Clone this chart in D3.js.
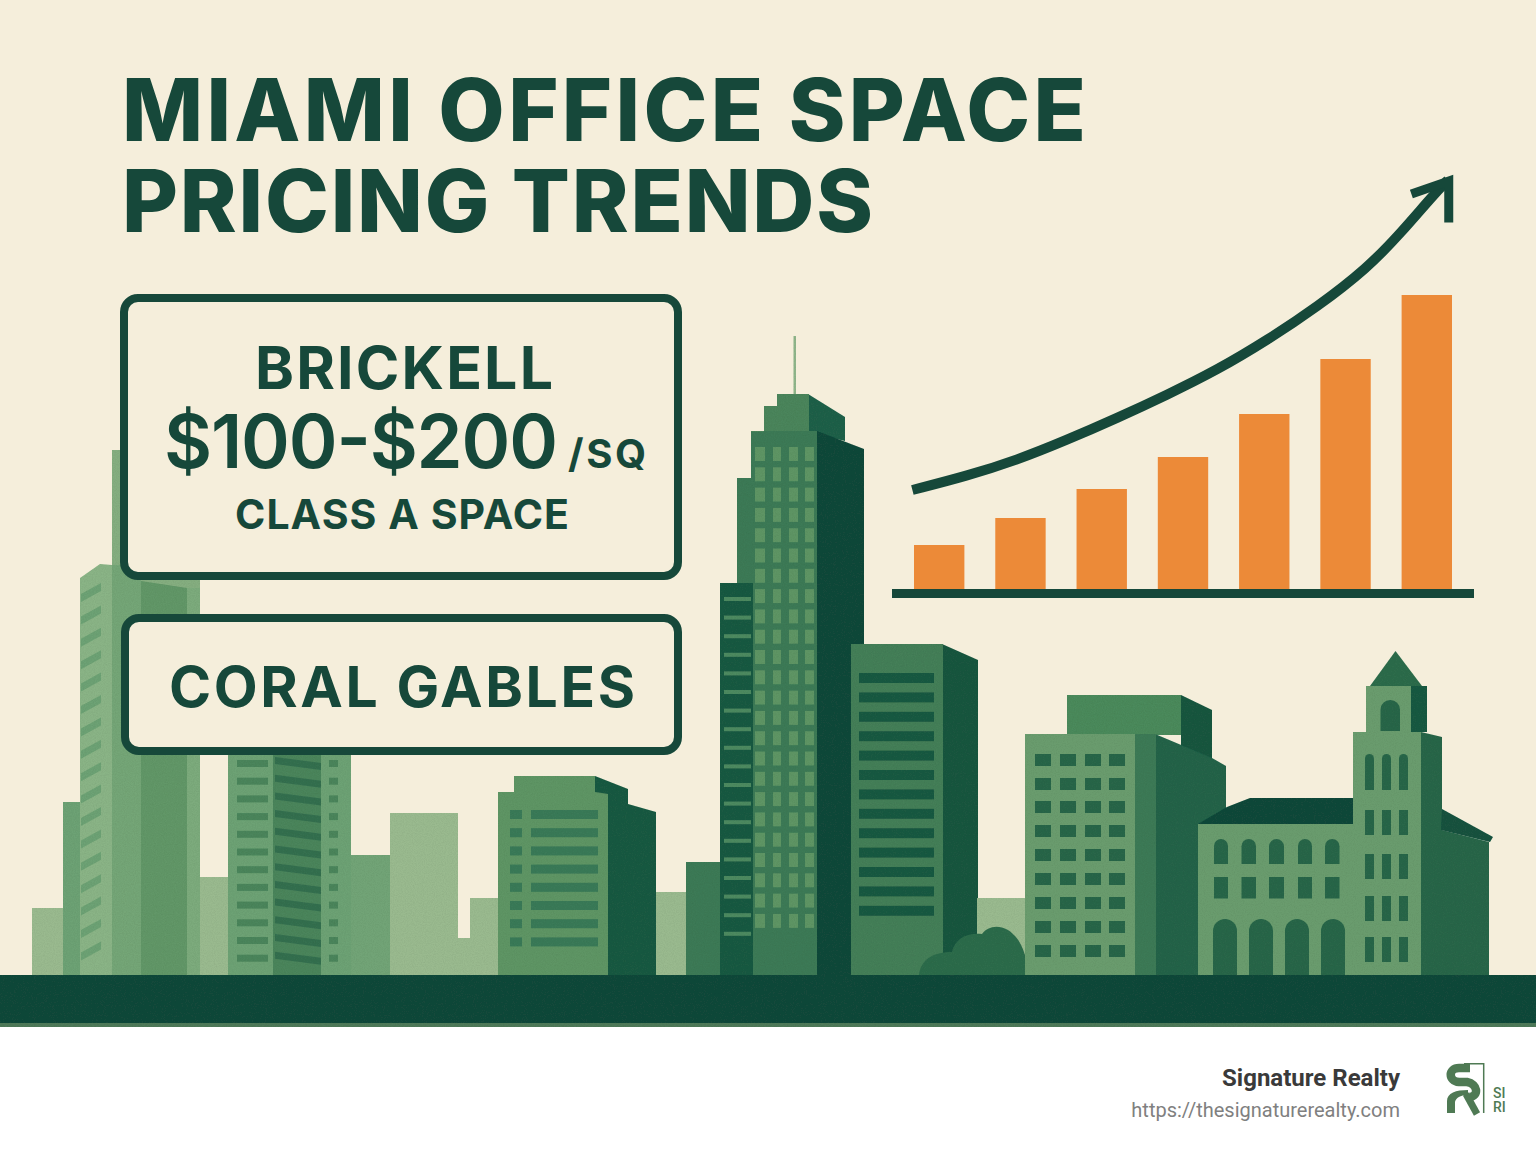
<!DOCTYPE html>
<html lang="en">
<head>
<meta charset="UTF-8">
<title>Miami Office Space Pricing Trends</title>
<script src="https://d3js.org/d3.v7.min.js"></script>
<style>
  html, body { margin: 0; padding: 0; background: #fff; }
  svg { display: block; }
  text { font-family: Inter, "Noto Sans", sans-serif; }
</style>
</head>
<body>
<svg id="chart" width="1536" height="1154"></svg>
<script>
// text
const titleLines = ["MIAMI OFFICE SPACE", "PRICING TRENDS"];
const brickellName = "BRICKELL";
const brickellPrice = "$100-$200";
const brickellUnit = "/SQ";
const brickellClass = "CLASS A SPACE";
const coralName = "CORAL GABLES";
const brandName = "Signature Realty";
const brandUrl = "https://thesignaturerealty.com";

// bars and trend line (no axis in the original, so units are relative)
const periods = [0, 1, 2, 3, 4, 5, 6];
const barValues = [44, 71, 100, 132, 175, 230, 294];
const trendPos = [-0.33, 0.34, 0.96, 1.57, 2.19, 2.80, 3.42, 4.04, 4.65, 5.27, 5.68, 6.08, 6.26];
const trendVal = [99, 113, 129, 149, 171, 194, 219, 249, 282, 321, 356, 394, 409];
const arrowPos = [5.81, 6.27, 6.27];
const arrowVal = [395, 408, 366.5];

// colours
const BG = "#f5eedb", INK = "#16483a", ORANGE = "#ec8a38";
const LIGHT = "#9aba8f", SOFT = "#85ae80", PALE = "#72a477", MID = "#6a9c6e", SAGE = "#5f9565";
const LEAF = "#4b855c", FOREST = "#3c7a56", PINE = "#2a664a", DEEP = "#1f5a43";

const svg = d3.select("#chart");

// paper grain on the buildings
const grain = svg.append("defs").append("filter").attr("id", "grain")
  .attr("x", 0).attr("y", 0).attr("width", 1).attr("height", 1);
grain.append("feTurbulence").attr("type", "fractalNoise").attr("baseFrequency", 0.9)
  .attr("numOctaves", 2).attr("seed", 4).attr("result", "noise");
grain.append("feColorMatrix").attr("in", "noise").attr("type", "matrix")
  .attr("values", "0 0 0 0 0  0 0 0 0 0  0 0 0 0 0  0.2 0 0 0 -0.07").attr("result", "specks");
grain.append("feComposite").attr("in", "specks").attr("in2", "SourceAlpha").attr("operator", "in").attr("result", "clipped");
const merge = grain.append("feMerge");
merge.append("feMergeNode").attr("in", "SourceGraphic");
merge.append("feMergeNode").attr("in", "clipped");

svg.append("rect").attr("width", 1536).attr("height", 1027).attr("fill", BG);

// ---- skyline helpers ----
const city = svg.append("g").attr("filter", "url(#grain)");

function rect(x, y, w, h, fill) {
  city.append("rect").attr("x", x).attr("y", y).attr("width", w).attr("height", h).attr("fill", fill);
}
function poly(pts, fill) {
  city.append("polygon").attr("points", pts.map(p => p.join(",")).join(" ")).attr("fill", fill);
}
function archWin(x, y, w, h, fill) {
  const r = w / 2;
  city.append("path").attr("fill", fill)
    .attr("d", `M${x},${y + h}V${y + r}A${r},${r} 0 0 1 ${x + w},${y + r}V${y + h}Z`);
}
function grid(xs, ys, widths, h, fill) {
  ys.forEach(y => xs.forEach((x, i) => rect(x, y, widths[i], h, fill)));
}

// far left cluster
rect(32, 908, 32, 67, LIGHT);
rect(112, 450, 88, 525, SOFT);
rect(63, 802, 18, 173, "#6da274");
poly([[80, 578], [100, 564], [112, 565], [112, 975], [80, 975]], "#8ab486");
rect(112, 565, 29, 410, "#74a677");
poly([[141, 581], [187, 588], [187, 975], [141, 975]], "#629768");
rect(187, 588, 13, 387, "#7dab7d");
d3.range(17).forEach(i => {
  const y = 583 + i * 22.4;
  poly([[81, y + 11], [101, y], [101, y + 8], [81, y + 19]], "#6da274");
});

// second block
rect(200, 877, 28, 98, LIGHT);
rect(228, 750, 123, 225, "#6da274");
rect(273, 750, 48, 225, LEAF);
d3.range(12).forEach(i => {
  const y = 760 + i * 17.7;
  rect(237, y, 31, 7, LEAF);
  poly([[275, y - 3], [321, y + 3], [321, y + 10], [275, y + 4]], "#367050");
  rect(329, y, 9, 7, LEAF);
});
rect(351, 855, 41, 120, PALE);
rect(390, 813, 68, 162, LIGHT);
rect(458, 938, 12, 37, LIGHT);
rect(470, 898, 28, 77, LIGHT);

// third block
poly([[595, 776], [628, 789], [628, 804], [656, 812], [656, 975], [595, 975]], DEEP);
poly([[498, 792], [514, 792], [514, 776], [595, 776], [595, 792], [608, 794], [608, 975], [498, 975]], SAGE);
d3.range(8).forEach(i => {
  const y = 810 + i * 18.2;
  rect(510, y, 12, 9, "#3a7a58");
  rect(531, y, 67, 9, "#3a7a58");
});

// main tower
rect(656, 892, 30, 83, LIGHT);
rect(686, 862, 36, 113, FOREST);
rect(793.5, 336, 2.5, 58, "#8fb58a");
poly([[808, 394], [845, 417], [845, 441], [808, 432]], "#22604a");
poly([[817, 431], [864, 449], [864, 975], [817, 975]], INK);
poly([[737, 478], [751, 478], [751, 431], [817, 431], [817, 975], [753, 975], [753, 583], [737, 583]], FOREST);
poly([[751, 432], [764, 432], [764, 406], [777, 406], [777, 394], [809, 394], [809, 431], [751, 431]], LEAF);
rect(720, 583, 33, 392, DEEP);
d3.range(19).forEach(i => rect(724, 597 + i * 18.6, 27, 4, "#4e8a61"));
grid([755, 773, 789, 805], d3.range(24).map(i => 447 + i * 20.3), [10, 8, 9, 9], 14, SAGE);

// building right of the tower
poly([[942, 644], [978, 660], [978, 975], [942, 975]], "#1c5640");
rect(851, 644, 92, 331, "#457f58");
d3.range(13).forEach(i => rect(859, 673 + i * 19.4, 75, 10, DEEP));
rect(977, 898, 50, 77, LIGHT);
city.append("path").attr("fill", "#2f6c4c")
  .attr("d", "M919,975C921,958 935,952 952,952C955,938 968,932 982,934C990,922 1015,922 1025,955L1025,975Z");

// block with the square windows
poly([[1181, 695], [1212, 710], [1212, 760], [1181, 760]], "#1d5741");
rect(1067, 695, 114, 40, "#4c8a5c");
poly([[1155, 734], [1212, 758], [1226, 766], [1226, 975], [1155, 975]], "#25634a");
rect(1025, 734, 110, 241, MID);
rect(1135, 734, 21, 241, FOREST);
grid([1035, 1060, 1085, 1109], [754, 778, 801, 825, 849, 873, 897, 921, 945], [16, 16, 16, 16], 12, PINE);

// old hall with the clock tower
poly([[1395.5, 651], [1370, 686], [1422, 686]], "#2f6c4c");
rect(1411, 686, 16, 46, DEEP);
poly([[1421, 732], [1442, 737], [1442, 830], [1489, 842], [1489, 975], [1421, 975]], PINE);
poly([[1442, 809], [1493, 837], [1490, 842], [1441, 830]], "#1a5340");
poly([[1198, 824], [1227, 807], [1250, 798], [1353, 798], [1353, 824]], INK);
rect(1198, 824, 156, 151, MID);
rect(1366, 686, 45, 46, MID);
rect(1353, 732, 68, 243, MID);
archWin(1380.5, 700, 19.5, 31, PINE);
[1365, 1382, 1399].forEach(x => {
  archWin(x, 754, 9, 36, PINE);
  [810, 854, 896, 937].forEach(y => rect(x, y, 9, 25, PINE));
});
[[1214, 14], [1241.5, 14.5], [1269, 15], [1298, 14], [1325, 14.5]].forEach(d => {
  archWin(d[0], 839, d[1], 25, PINE);
  rect(d[0], 877, d[1], 21.5, PINE);
});
[1213, 1249, 1285, 1321].forEach(x => archWin(x, 919, 24, 56, PINE));

// ground
rect(0, 975, 1536, 48, INK);
rect(0, 1023, 1536, 4, "#4f7a5a");

// ---- bars and trend line ----
const x = d3.scaleBand().domain(periods).range([914, 1452]).paddingInner(0.38);
const y = d3.scaleLinear().domain([0, 300]).range([589, 289]);
const trendX = d3.scaleLinear().domain([0, 6]).range([x(0) + x.bandwidth() / 2, x(6) + x.bandwidth() / 2]);

svg.append("g").selectAll("rect")
  .data(barValues)
  .join("rect")
  .attr("x", (d, i) => x(periods[i]))
  .attr("y", d => y(d))
  .attr("width", x.bandwidth())
  .attr("height", d => y(0) - y(d))
  .attr("fill", ORANGE);

svg.append("line")
  .attr("x1", 892).attr("x2", 1474)
  .attr("y1", y(0) + 4.5).attr("y2", y(0) + 4.5)
  .attr("stroke", INK).attr("stroke-width", 9);

const trendLine = d3.line()
  .x(d => trendX(d[0]))
  .y(d => y(d[1]));

svg.append("path")
  .attr("d", trendLine.curve(d3.curveBasis)(d3.zip(trendPos, trendVal)))
  .attr("fill", "none").attr("stroke", INK).attr("stroke-width", 10);

svg.append("path")
  .attr("d", trendLine.curve(d3.curveLinear)(d3.zip(arrowPos, arrowVal)))
  .attr("fill", "none").attr("stroke", INK).attr("stroke-width", 9)
  .attr("stroke-linejoin", "miter");

// ---- title and boxes ----
function label(txt, xPos, yPos, size, width, weight, fill, anchor) {
  const t = svg.append("text")
    .attr("x", xPos).attr("y", yPos)
    .attr("font-size", size).attr("font-weight", weight || 700)
    .attr("fill", fill || INK)
    .attr("text-anchor", anchor || "start")
    .text(txt);
  if (width) t.attr("textLength", width).attr("lengthAdjust", "spacing");
  return t;
}

label(titleLines[0], 122, 141, 86, 964, 800);
label(titleLines[1], 122, 232, 86, 751, 800);

function box(bx, by, bw, bh) {
  svg.append("rect")
    .attr("x", bx).attr("y", by).attr("width", bw).attr("height", bh)
    .attr("rx", 14)
    .attr("fill", BG).attr("stroke", INK).attr("stroke-width", 8);
}
box(124, 298, 554, 278);
box(125, 618, 553, 133);

label(brickellName, 255, 389, 59, 298);
label(brickellPrice, 164, 468, 74, 394, 600);
label(brickellUnit, 568, 468, 40, 78);
label(brickellClass, 235, 529, 41, 334);
label(coralName, 169, 707, 57, 466);

// ---- footer ----
label(brandName, 1400, 1086, 24, null, 700, "#3a3a3a", "end").style("font-family", "Roboto");
label(brandUrl, 1400, 1117, 20, null, 400, "#808080", "end").style("font-family", "Roboto");

const logo = svg.append("g").attr("fill", "none").attr("stroke", "#4f7a54");
logo.append("path").attr("stroke-width", 1.5).attr("d", "M1464,1063.7H1483.7V1113");
logo.append("path").attr("stroke-width", 8.5)
  .attr("d", "M1470,1068H1459C1448,1068 1448,1081 1459,1082H1467C1478,1084 1479,1096 1470,1097");
logo.append("path").attr("stroke-width", 7).attr("d", "M1466,1094L1477,1114");
logo.append("path").attr("stroke", "none").attr("fill", "#4f7a54")
  .attr("d", "M1447,1113V1101C1447,1093 1456,1090 1468,1090V1095C1460,1095 1456,1098 1455,1102V1113Z");
label("SI", 1493, 1098, 14, null, 500, "#4f7a54").style("font-family", "Roboto");
label("RI", 1493, 1112, 14, null, 500, "#4f7a54").style("font-family", "Roboto");
</script>
</body>
</html>
